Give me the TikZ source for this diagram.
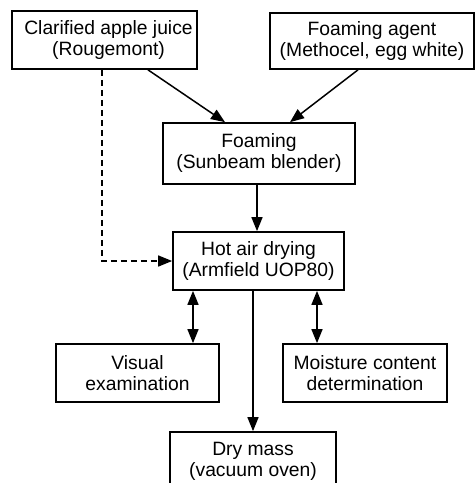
\documentclass[tikz,border=0pt]{standalone}
\usepackage{fontspec}
\setmainfont{Liberation Sans}
\usetikzlibrary{arrows.meta}
\begin{document}
\begin{tikzpicture}[x=1pt,y=-1pt,
  box/.style={draw, line width=1.7pt, inner sep=0pt, align=center,
    font=\fontsize{19.3}{21}\selectfont},
  tip/.style={Triangle[length=14pt,width=11pt]},
  conn/.style={line width=1.5pt, -{Triangle[length=14pt,width=11pt]}},
  both/.style={line width=1.5pt, {Triangle[length=14pt,width=11pt]}-{Triangle[length=14pt,width=11pt]}}]
\useasboundingbox (0,0) rectangle (476,483);
\node[box, minimum width=185pt, minimum height=58pt] (juice) at (104.5,40) {\hspace*{8pt}Clarified apple juice\\\hspace*{8pt}(Rougemont)};
\node[box, minimum width=204pt, minimum height=56pt] (agent) at (372,41) {Foaming agent\\(Methocel, egg white)};
\node[box, minimum width=192pt, minimum height=61pt] (foam) at (259,153.5) {Foaming\\(Sunbeam blender)};
\node[box, minimum width=171pt, minimum height=58pt] (hot) at (258.5,261) {Hot air drying\\(Armfield UOP80)};
\node[box, minimum width=163pt, minimum height=58pt] (vis) at (137.5,373) {Visual\\examination};
\node[box, minimum width=164pt, minimum height=58pt] (moist) at (365,373) {Moisture content\\determination};
\node[box, minimum width=166pt, minimum height=58pt] (dry) at (253,461) {Dry mass\\(vacuum oven)};
\draw[conn] (juice.south -| 148,0) -- (foam.north -| 225,0);
\draw[conn] (agent.south -| 358,0) -- (foam.north -| 290,0);
\draw[conn] (foam.south -| 257,0) -- (hot.north -| 257,0);
\draw[conn, dashed, dash pattern=on 6pt off 4pt] (juice.south -| 102,0) |- (hot.west);
\draw[both] (hot.south -| 193,0) -- (vis.north -| 193,0);
\draw[both] (hot.south -| 317,0) -- (moist.north -| 317,0);
\draw[conn] (hot.south -| 253,0) -- (dry.north -| 253,0);
\end{tikzpicture}
\end{document}
